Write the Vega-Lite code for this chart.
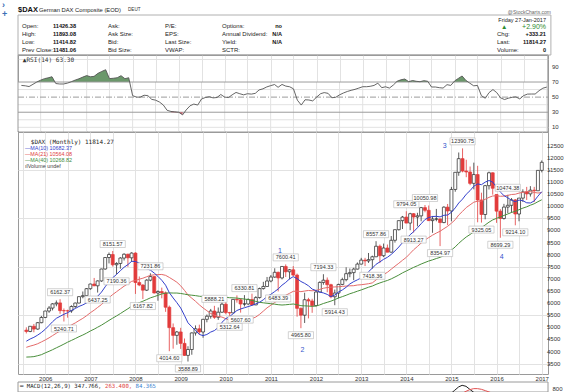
{
"$schema": "https://vega.github.io/schema/vega-lite/v6.json",
"padding": {"left": 2, "top": 0, "right": 0, "bottom": 0},
"background": "white",
"config": {"view": {"stroke": "#9a9a9a", "strokeWidth": 1}, "font": "Liberation Sans", "axis": {"labelFont": "Liberation Sans", "labelColor": "#333", "labelOverlap": false}, "text": {"font": "Liberation Sans"}},
"datasets": {
"info": [
{"col":1,"row":1,"label":"Open:","value":"11426.38"},
{"col":1,"row":2,"label":"High:","value":"11893.08"},
{"col":1,"row":3,"label":"Low:","value":"11414.82"},
{"col":1,"row":4,"label":"Prev Close:","value":"11481.06"},
{"col":2,"row":1,"label":"Ask:","value":""},
{"col":2,"row":2,"label":"Ask Size:","value":""},
{"col":2,"row":3,"label":"Bid:","value":""},
{"col":2,"row":4,"label":"Bid Size:","value":""},
{"col":3,"row":1,"label":"P/E:","value":""},
{"col":3,"row":2,"label":"EPS:","value":""},
{"col":3,"row":3,"label":"Last Size:","value":""},
{"col":3,"row":4,"label":"VWAP:","value":""},
{"col":4,"row":1,"label":"Options:","value":"no"},
{"col":4,"row":2,"label":"Annual Dividend:","value":"N/A"},
{"col":4,"row":3,"label":"Yield:","value":"N/A"},
{"col":4,"row":4,"label":"SCTR:","value":""},
{"col":5,"row":2,"label":"Chg:","value":"+333.21"},
{"col":5,"row":3,"label":"Last:","value":"11814.27"},
{"col":5,"row":4,"label":"Volume:","value":"0"}
],
"notes": [
{"kind":"box","text":"box"},
{"kind":"sym","text":"$DAX"},
{"kind":"name","text":"German DAX Composite (EOD)"},
{"kind":"exch","text":"DEUT"},
{"kind":"site","text":"@StockCharts.com"},
{"kind":"date","text":"Friday  27-Jan-2017"},
{"kind":"pct","text":"+2.90%"},
{"kind":"arrow","text":"▲"},
{"kind":"icon1","text":"›"},
{"kind":"icon2","text":"+"},
{"kind":"mask","text":"mask"},
{"kind":"frame","text":"frame"},
{"kind":"rsi","text":"▲RSI(14) 63.30"},
{"kind":"DAX","text":"$DAX (Monthly) 11814.27"},
{"kind":"MA10","text":"—MA(10) 10682.37"},
{"kind":"MA21","text":"—MA(21) 10564.08"},
{"kind":"MA40","text":"—MA(40) 10268.82"},
{"kind":"VOL","text":"ılVolume undef"},
{"kind":"macd","text":"━ MACD(12,26,9) 347.766,"},
{"kind":"sig","text":"263.400,"},
{"kind":"hist","text":"84.365"}
],
"levels": [
{"level":10,"kind":"grid"},{"level":20,"kind":"grid"},{"level":40,"kind":"grid"},{"level":60,"kind":"grid"},
{"level":30,"kind":"band"},{"level":70,"kind":"band"},{"level":50,"kind":"mid"}
],
"yticks": [
{"panel":"rsi","v":10},{"panel":"rsi","v":30},{"panel":"rsi","v":50},{"panel":"rsi","v":70},{"panel":"rsi","v":90},
{"panel":"main","v":3500},{"panel":"main","v":4000},{"panel":"main","v":4500},{"panel":"main","v":5000},{"panel":"main","v":5500},
{"panel":"main","v":6000},{"panel":"main","v":6500},{"panel":"main","v":7000},{"panel":"main","v":7500},{"panel":"main","v":8000},
{"panel":"main","v":8500},{"panel":"main","v":9000},{"panel":"main","v":9500},{"panel":"main","v":10000},{"panel":"main","v":10500},
{"panel":"main","v":11000},{"panel":"main","v":11500},{"panel":"main","v":12000},{"panel":"main","v":12500}
],
"px": [
{"date":"2005-08-01","open":4886,"high":5000,"low":4750,"close":4830,"ma10":4428,"ma21":4175,"ma40":3773,"rsi":65.5},
{"date":"2005-09-01","open":4830,"high":5050,"low":4800,"close":5044,"ma10":4520,"ma21":4226,"ma40":3779,"rsi":65},
{"date":"2005-10-01","open":5044,"high":5140,"low":4796,"close":4929,"ma10":4588,"ma21":4268,"ma40":3792,"rsi":64},
{"date":"2005-11-01","open":4929,"high":5220,"low":4900,"close":5193,"ma10":4681,"ma21":4324,"ma40":3830,"rsi":67},
{"date":"2005-12-01","open":5193,"high":5470,"low":5170,"close":5408,"ma10":4787,"ma21":4398,"ma40":3872,"rsi":70},
{"date":"2006-01-01","open":5408,"high":5680,"low":5380,"close":5674,"ma10":4920,"ma21":4478,"ma40":3945,"rsi":72.5},
{"date":"2006-02-01","open":5674,"high":5880,"low":5600,"close":5796,"ma10":5081,"ma21":4567,"ma40":4011,"rsi":74.5},
{"date":"2006-03-01","open":5796,"high":6000,"low":5700,"close":5970,"ma10":5232,"ma21":4659,"ma40":4077,"rsi":75.5},
{"date":"2006-04-01","open":5970,"high":6110,"low":5870,"close":6009,"ma10":5374,"ma21":4759,"ma40":4155,"rsi":77},
{"date":"2006-05-01","open":6009,"high":6162,"low":5560,"close":5692,"ma10":5455,"ma21":4850,"ma40":4228,"rsi":68},
{"date":"2006-06-01","open":5692,"high":5780,"low":5241,"close":5683,"ma10":5540,"ma21":4935,"ma40":4307,"rsi":67.4},
{"date":"2006-07-01","open":5683,"high":5730,"low":5400,"close":5682,"ma10":5604,"ma21":5017,"ma40":4388,"rsi":67.4},
{"date":"2006-08-01","open":5682,"high":5910,"low":5600,"close":5860,"ma10":5697,"ma21":5100,"ma40":4461,"rsi":68.5},
{"date":"2006-09-01","open":5860,"high":6020,"low":5800,"close":6004,"ma10":5778,"ma21":5183,"ma40":4537,"rsi":70.4},
{"date":"2006-10-01","open":6004,"high":6280,"low":5990,"close":6268,"ma10":5864,"ma21":5279,"ma40":4613,"rsi":72.5},
{"date":"2006-11-01","open":6268,"high":6480,"low":6200,"close":6309,"ma10":5927,"ma21":5372,"ma40":4683,"rsi":74.3},
{"date":"2006-12-01","open":6309,"high":6620,"low":6240,"close":6597,"ma10":6007,"ma21":5479,"ma40":4761,"rsi":76.5},
{"date":"2007-01-01","open":6597,"high":6800,"low":6550,"close":6789,"ma10":6089,"ma21":5603,"ma40":4850,"rsi":78.5},
{"date":"2007-02-01","open":6789,"high":7040,"low":6700,"close":6716,"ma10":6160,"ma21":5711,"ma40":4926,"rsi":77},
{"date":"2007-03-01","open":6716,"high":6940,"low":6437,"close":6917,"ma10":6283,"ma21":5822,"ma40":5005,"rsi":77.5},
{"date":"2007-04-01","open":6917,"high":7420,"low":6880,"close":7409,"ma10":6455,"ma21":5942,"ma40":5091,"rsi":81.5},
{"date":"2007-05-01","open":7409,"high":7890,"low":7380,"close":7883,"ma10":6675,"ma21":6087,"ma40":5187,"rsi":84},
{"date":"2007-06-01","open":7883,"high":8090,"low":7640,"close":8007,"ma10":6890,"ma21":6228,"ma40":5287,"rsi":86.3},
{"date":"2007-07-01","open":8007,"high":8152,"low":7510,"close":7584,"ma10":7048,"ma21":6355,"ma40":5380,"rsi":74.5},
{"date":"2007-08-01","open":7584,"high":7690,"low":7190,"close":7638,"ma10":7185,"ma21":6471,"ma40":5471,"rsi":75},
{"date":"2007-09-01","open":7638,"high":7900,"low":7420,"close":7862,"ma10":7340,"ma21":6588,"ma40":5570,"rsi":75.7},
{"date":"2007-10-01","open":7862,"high":8060,"low":7760,"close":8019,"ma10":7482,"ma21":6700,"ma40":5669,"rsi":78.4},
{"date":"2007-11-01","open":8019,"high":8040,"low":7500,"close":7871,"ma10":7591,"ma21":6799,"ma40":5768,"rsi":74.4},
{"date":"2007-12-01","open":7871,"high":8100,"low":7700,"close":8067,"ma10":7726,"ma21":6898,"ma40":5875,"rsi":75.7},
{"date":"2008-01-01","open":8067,"high":8100,"low":6380,"close":6851,"ma10":7719,"ma21":6938,"ma40":5949,"rsi":52},
{"date":"2008-02-01","open":6851,"high":7100,"low":6700,"close":6748,"ma10":7653,"ma21":6989,"ma40":6019,"rsi":50},
{"date":"2008-03-01","open":6748,"high":6780,"low":6168,"close":6535,"ma10":7518,"ma21":7029,"ma40":6079,"rsi":50},
{"date":"2008-04-01","open":6535,"high":6990,"low":6500,"close":6949,"ma10":7412,"ma21":7090,"ma40":6147,"rsi":52.5},
{"date":"2008-05-01","open":6949,"high":7232,"low":6900,"close":7096,"ma10":7364,"ma21":7148,"ma40":6218,"rsi":52},
{"date":"2008-06-01","open":7096,"high":7110,"low":6400,"close":6418,"ma10":7242,"ma21":7168,"ma40":6269,"rsi":47},
{"date":"2008-07-01","open":6418,"high":6530,"low":6100,"close":6479,"ma10":7103,"ma21":7178,"ma40":6323,"rsi":46},
{"date":"2008-08-01","open":6479,"high":6640,"low":6200,"close":6422,"ma10":6944,"ma21":7184,"ma40":6379,"rsi":43.5},
{"date":"2008-09-01","open":6422,"high":6480,"low":5640,"close":5831,"ma10":6740,"ma21":7147,"ma40":6413,"rsi":39.5},
{"date":"2008-10-01","open":5831,"high":5900,"low":4015,"close":4988,"ma10":6432,"ma21":7061,"ma40":6423,"rsi":32.5},
{"date":"2008-11-01","open":4988,"high":5160,"low":4120,"close":4669,"ma10":6214,"ma21":6964,"ma40":6417,"rsi":31},
{"date":"2008-12-01","open":4669,"high":4850,"low":4280,"close":4810,"ma10":6020,"ma21":6864,"ma40":6417,"rsi":30.5},
{"date":"2009-01-01","open":4810,"high":4980,"low":4110,"close":4338,"ma10":5800,"ma21":6717,"ma40":6399,"rsi":30},
{"date":"2009-02-01","open":4338,"high":4540,"low":3820,"close":3843,"ma10":5489,"ma21":6525,"ma40":6372,"rsi":26.5},
{"date":"2009-03-01","open":3843,"high":4220,"low":3589,"close":4085,"ma10":5188,"ma21":6338,"ma40":6344,"rsi":33},
{"date":"2009-04-01","open":4085,"high":4790,"low":3870,"close":4770,"ma10":5024,"ma21":6204,"ma40":6328,"rsi":38.5},
{"date":"2009-05-01","open":4770,"high":5080,"low":4660,"close":4941,"ma10":4870,"ma21":6076,"ma40":6310,"rsi":40.8},
{"date":"2009-06-01","open":4941,"high":5110,"low":4700,"close":4809,"ma10":4708,"ma21":5930,"ma40":6285,"rsi":39.5},
{"date":"2009-07-01","open":4809,"high":5350,"low":4570,"close":5332,"ma10":4659,"ma21":5802,"ma40":6270,"rsi":47.5},
{"date":"2009-08-01","open":5332,"high":5530,"low":5210,"close":5458,"ma10":4706,"ma21":5688,"ma40":6256,"rsi":49.5},
{"date":"2009-09-01","open":5458,"high":5760,"low":5360,"close":5675,"ma10":4806,"ma21":5574,"ma40":6255,"rsi":50.5},
{"date":"2009-10-01","open":5675,"high":5888,"low":5350,"close":5415,"ma10":4867,"ma21":5505,"ma40":6249,"rsi":49},
{"date":"2009-11-01","open":5415,"high":5820,"low":5310,"close":5625,"ma10":4995,"ma21":5452,"ma40":6247,"rsi":49.5},
{"date":"2009-12-01","open":5625,"high":6030,"low":5600,"close":5957,"ma10":5207,"ma21":5424,"ma40":6250,"rsi":53.5},
{"date":"2010-01-01","open":5957,"high":6095,"low":5540,"close":5608,"ma10":5359,"ma21":5360,"ma40":6240,"rsi":50},
{"date":"2010-02-01","open":5608,"high":5640,"low":5313,"close":5598,"ma10":5442,"ma21":5289,"ma40":6223,"rsi":49.5},
{"date":"2010-03-01","open":5598,"high":6170,"low":5590,"close":6154,"ma10":5563,"ma21":5277,"ma40":6219,"rsi":53},
{"date":"2010-04-01","open":6154,"high":6320,"low":6020,"close":6136,"ma10":5696,"ma21":5260,"ma40":6208,"rsi":56.2},
{"date":"2010-05-01","open":6136,"high":6200,"low":5608,"close":5964,"ma10":5759,"ma21":5238,"ma40":6187,"rsi":54.5},
{"date":"2010-06-01","open":5964,"high":6331,"low":5860,"close":5966,"ma10":5810,"ma21":5245,"ma40":6168,"rsi":53},
{"date":"2010-07-01","open":5966,"high":6200,"low":5930,"close":6148,"ma10":5857,"ma21":5300,"ma40":6149,"rsi":54.5},
{"date":"2010-08-01","open":6148,"high":6390,"low":5920,"close":5925,"ma10":5908,"ma21":5360,"ma40":6112,"rsi":54},
{"date":"2010-09-01","open":5925,"high":6290,"low":5920,"close":6229,"ma10":5969,"ma21":5427,"ma40":6071,"rsi":55},
{"date":"2010-10-01","open":6229,"high":6640,"low":6190,"close":6601,"ma10":6033,"ma21":5535,"ma40":6035,"rsi":59.5},
{"date":"2010-11-01","open":6601,"high":6880,"low":6560,"close":6688,"ma10":6141,"ma21":5671,"ma40":6013,"rsi":61},
{"date":"2010-12-01","open":6688,"high":7080,"low":6680,"close":6914,"ma10":6273,"ma21":5805,"ma40":5995,"rsi":63.5},
{"date":"2011-01-01","open":6914,"high":7160,"low":6860,"close":7077,"ma10":6365,"ma21":5915,"ma40":5975,"rsi":65.2},
{"date":"2011-02-01","open":7077,"high":7440,"low":7050,"close":7273,"ma10":6479,"ma21":6026,"ma40":5957,"rsi":66.7},
{"date":"2011-03-01","open":7273,"high":7300,"low":6483,"close":7041,"ma10":6586,"ma21":6133,"ma40":5936,"rsi":63},
{"date":"2011-04-01","open":7041,"high":7530,"low":6980,"close":7514,"ma10":6741,"ma21":6237,"ma40":5922,"rsi":66.8},
{"date":"2011-05-01","open":7514,"high":7600,"low":7080,"close":7294,"ma10":6856,"ma21":6324,"ma40":5933,"rsi":64.6},
{"date":"2011-06-01","open":7294,"high":7410,"low":6980,"close":7376,"ma10":7001,"ma21":6405,"ma40":5949,"rsi":63.7},
{"date":"2011-07-01","open":7376,"high":7530,"low":7120,"close":7159,"ma10":7094,"ma21":6488,"ma40":5964,"rsi":61},
{"date":"2011-08-01","open":7159,"high":7220,"low":5440,"close":5785,"ma10":7012,"ma21":6496,"ma40":5935,"rsi":46},
{"date":"2011-09-01","open":5785,"high":5820,"low":4966,"close":5502,"ma10":6894,"ma21":6474,"ma40":5895,"rsi":39.5},
{"date":"2011-10-01","open":5502,"high":6430,"low":5180,"close":6141,"ma10":6816,"ma21":6499,"ma40":5889,"rsi":46.5},
{"date":"2011-11-01","open":6141,"high":6220,"low":5370,"close":6089,"ma10":6717,"ma21":6523,"ma40":5879,"rsi":46.2},
{"date":"2011-12-01","open":6089,"high":6180,"low":5600,"close":5898,"ma10":6580,"ma21":6510,"ma40":5866,"rsi":45},
{"date":"2012-01-01","open":5898,"high":6500,"low":5870,"close":6459,"ma10":6522,"ma21":6526,"ma40":5881,"rsi":50},
{"date":"2012-02-01","open":6459,"high":6900,"low":6450,"close":6856,"ma10":6456,"ma21":6568,"ma40":5928,"rsi":54.5},
{"date":"2012-03-01","open":6856,"high":7194,"low":6760,"close":6947,"ma10":6421,"ma21":6615,"ma40":5985,"rsi":56},
{"date":"2012-04-01","open":6947,"high":7060,"low":6450,"close":6761,"ma10":6360,"ma21":6644,"ma40":6034,"rsi":55},
{"date":"2012-05-01","open":6761,"high":6800,"low":6200,"close":6264,"ma10":6270,"ma21":6660,"ma40":6082,"rsi":49.2},
{"date":"2012-06-01","open":6264,"high":6560,"low":5914,"close":6416,"ma10":6333,"ma21":6669,"ma40":6146,"rsi":49.8},
{"date":"2012-07-01","open":6416,"high":6800,"low":6200,"close":6772,"ma10":6460,"ma21":6677,"ma40":6213,"rsi":53},
{"date":"2012-08-01","open":6772,"high":7050,"low":6740,"close":6970,"ma10":6543,"ma21":6691,"ma40":6268,"rsi":55.5},
{"date":"2012-09-01","open":6970,"high":7480,"low":6900,"close":7216,"ma10":6656,"ma21":6705,"ma40":6325,"rsi":57.5},
{"date":"2012-10-01","open":7216,"high":7430,"low":7070,"close":7260,"ma10":6792,"ma21":6714,"ma40":6387,"rsi":59},
{"date":"2012-11-01","open":7260,"high":7460,"low":6950,"close":7405,"ma10":6887,"ma21":6720,"ma40":6438,"rsi":60.3},
{"date":"2012-12-01","open":7405,"high":7680,"low":7390,"close":7612,"ma10":6962,"ma21":6748,"ma40":6492,"rsi":62},
{"date":"2013-01-01","open":7612,"high":7870,"low":7600,"close":7776,"ma10":7045,"ma21":6760,"ma40":6545,"rsi":63.8},
{"date":"2013-02-01","open":7776,"high":7870,"low":7530,"close":7742,"ma10":7143,"ma21":6781,"ma40":6603,"rsi":63.8},
{"date":"2013-03-01","open":7742,"high":8070,"low":7660,"close":7795,"ma10":7296,"ma21":6801,"ma40":6657,"rsi":64.3},
{"date":"2013-04-01","open":7795,"high":7960,"low":7418,"close":7914,"ma10":7446,"ma21":6837,"ma40":6706,"rsi":65.5},
{"date":"2013-05-01","open":7914,"high":8558,"low":7900,"close":8349,"ma10":7604,"ma21":6959,"ma40":6775,"rsi":68.5},
{"date":"2013-06-01","open":8349,"high":8420,"low":7655,"close":7959,"ma10":7703,"ma21":7076,"ma40":6834,"rsi":62.5},
{"date":"2013-07-01","open":7959,"high":8460,"low":7900,"close":8276,"ma10":7809,"ma21":7178,"ma40":6887,"rsi":63.7},
{"date":"2013-08-01","open":8276,"high":8420,"low":8100,"close":8104,"ma10":7893,"ma21":7274,"ma40":6936,"rsi":62},
{"date":"2013-09-01","open":8104,"high":8770,"low":8090,"close":8594,"ma10":8012,"ma21":7402,"ma40":7002,"rsi":66},
{"date":"2013-10-01","open":8594,"high":9040,"low":8500,"close":9033,"ma10":8154,"ma21":7525,"ma40":7078,"rsi":71},
{"date":"2013-11-01","open":9033,"high":9410,"low":9000,"close":9406,"ma10":8317,"ma21":7646,"ma40":7160,"rsi":73},
{"date":"2013-12-01","open":9406,"high":9600,"low":9060,"close":9552,"ma10":8498,"ma21":7770,"ma40":7250,"rsi":74},
{"date":"2014-01-01","open":9552,"high":9794,"low":9300,"close":9306,"ma10":8649,"ma21":7891,"ma40":7327,"rsi":70.5},
{"date":"2014-02-01","open":9306,"high":9730,"low":9010,"close":9692,"ma10":8827,"ma21":8055,"ma40":7405,"rsi":72},
{"date":"2014-03-01","open":9692,"high":9720,"low":8913,"close":9556,"ma10":8948,"ma21":8204,"ma40":7476,"rsi":71},
{"date":"2014-04-01","open":9556,"high":9730,"low":9170,"close":9603,"ma10":9112,"ma21":8339,"ma40":7544,"rsi":70.4},
{"date":"2014-05-01","open":9603,"high":9970,"low":9380,"close":9943,"ma10":9279,"ma21":8481,"ma40":7615,"rsi":71.8},
{"date":"2014-06-01","open":9943,"high":10051,"low":9750,"close":9833,"ma10":9452,"ma21":8605,"ma40":7679,"rsi":71},
{"date":"2014-07-01","open":9833,"high":10030,"low":9390,"close":9407,"ma10":9533,"ma21":8707,"ma40":7738,"rsi":63.4},
{"date":"2014-08-01","open":9407,"high":9600,"low":8904,"close":9470,"ma10":9577,"ma21":8806,"ma40":7787,"rsi":63.4},
{"date":"2014-09-01","open":9470,"high":9890,"low":9380,"close":9474,"ma10":9584,"ma21":8894,"ma40":7842,"rsi":62.5},
{"date":"2014-10-01","open":9474,"high":9500,"low":8355,"close":9327,"ma10":9561,"ma21":8968,"ma40":7891,"rsi":62},
{"date":"2014-11-01","open":9327,"high":10000,"low":9300,"close":9963,"ma10":9627,"ma21":9074,"ma40":7961,"rsi":66.5},
{"date":"2014-12-01","open":9963,"high":10094,"low":9220,"close":9806,"ma10":9638,"ma21":9170,"ma40":8061,"rsi":65.5},
{"date":"2015-01-01","open":9806,"high":10800,"low":9380,"close":10694,"ma10":9752,"ma21":9302,"ma40":8191,"rsi":71.5},
{"date":"2015-02-01","open":10694,"high":11400,"low":10600,"close":11402,"ma10":9932,"ma21":9448,"ma40":8323,"rsi":75},
{"date":"2015-03-01","open":11402,"high":12220,"low":11260,"close":11966,"ma10":10134,"ma21":9638,"ma40":8469,"rsi":78},
{"date":"2015-04-01","open":11966,"high":12391,"low":11400,"close":11454,"ma10":10296,"ma21":9790,"ma40":8608,"rsi":72},
{"date":"2015-05-01","open":11454,"high":11920,"low":11200,"close":11414,"ma10":10497,"ma21":9947,"ma40":8732,"rsi":68.5},
{"date":"2015-06-01","open":11414,"high":11640,"low":10870,"close":10945,"ma10":10645,"ma21":10059,"ma40":8834,"rsi":65},
{"date":"2015-07-01","open":10945,"high":11800,"low":10700,"close":11309,"ma10":10828,"ma21":10168,"ma40":8944,"rsi":65.5},
{"date":"2015-08-01","open":11309,"high":11670,"low":9338,"close":10259,"ma10":10921,"ma21":10208,"ma40":9031,"rsi":52},
{"date":"2015-09-01","open":10259,"high":10560,"low":9325,"close":9660,"ma10":10891,"ma21":10214,"ma40":9116,"rsi":48.5},
{"date":"2015-10-01","open":9660,"high":10880,"low":9460,"close":10850,"ma10":10995,"ma21":10287,"ma40":9227,"rsi":56},
{"date":"2015-11-01","open":10850,"high":11430,"low":10690,"close":11382,"ma10":11064,"ma21":10367,"ma40":9342,"rsi":60},
{"date":"2015-12-01","open":11382,"high":11400,"low":10480,"close":10743,"ma10":10998,"ma21":10424,"ma40":9436,"rsi":56},
{"date":"2016-01-01","open":10486,"high":10486,"low":9314,"close":9798,"ma10":10781,"ma21":10433,"ma40":9501,"rsi":49},
{"date":"2016-02-01","open":9798,"high":9880,"low":8699,"close":9495,"ma10":10586,"ma21":10412,"ma40":9557,"rsi":46.8},
{"date":"2016-03-01","open":9495,"high":10100,"low":9450,"close":9966,"ma10":10441,"ma21":10418,"ma40":9621,"rsi":48.5},
{"date":"2016-04-01","open":9966,"high":10474,"low":9720,"close":10039,"ma10":10350,"ma21":10448,"ma40":9681,"rsi":49.8},
{"date":"2016-05-01","open":10039,"high":10340,"low":9730,"close":10263,"ma10":10246,"ma21":10486,"ma40":9744,"rsi":50.3},
{"date":"2016-06-01","open":10263,"high":10300,"low":9214,"close":9680,"ma10":10188,"ma21":10496,"ma40":9792,"rsi":47.6},
{"date":"2016-07-01","open":9680,"high":10340,"low":9380,"close":10337,"ma10":10255,"ma21":10544,"ma40":9856,"rsi":52},
{"date":"2016-08-01","open":10337,"high":10700,"low":10180,"close":10593,"ma10":10230,"ma21":10574,"ma40":9923,"rsi":54},
{"date":"2016-09-01","open":10593,"high":10800,"low":10260,"close":10511,"ma10":10143,"ma21":10608,"ma40":9977,"rsi":54.1},
{"date":"2016-10-01","open":10511,"high":10830,"low":10400,"close":10665,"ma10":10135,"ma21":10606,"ma40":10044,"rsi":54.1},
{"date":"2016-11-01","open":10665,"high":10800,"low":10170,"close":10640,"ma10":10219,"ma21":10570,"ma40":10103,"rsi":58.5},
{"date":"2016-12-01","open":10640,"high":11480,"low":10640,"close":11481,"ma10":10418,"ma21":10547,"ma40":10188,"rsi":61.8},
{"date":"2017-01-01","open":11481,"high":11893,"low":11400,"close":11814,"ma10":10602,"ma21":10564,"ma40":10268,"rsi":63.3}
],
"marks": [
{"date":"2006-05-01","price":6162.37,"text":"6162.37","pos":"up"},
{"date":"2006-06-01","price":5240.71,"text":"5240.71","pos":"down"},
{"date":"2007-03-01","price":6437.25,"text":"6437.25","pos":"down"},
{"date":"2007-07-01","price":8151.57,"text":"8151.57","pos":"up"},
{"date":"2007-08-01","price":7190.36,"text":"7190.36","pos":"down"},
{"date":"2008-03-01","price":6167.82,"text":"6167.82","pos":"down"},
{"date":"2008-05-01","price":7231.86,"text":"7231.86","pos":"up"},
{"date":"2008-10-01","price":4014.60,"text":"4014.60","pos":"down"},
{"date":"2009-03-01","price":3588.89,"text":"3588.89","pos":"down"},
{"date":"2009-10-01","price":5888.21,"text":"5888.21","pos":"up"},
{"date":"2010-02-01","price":5312.64,"text":"5312.64","pos":"down"},
{"date":"2010-06-01","price":6330.81,"text":"6330.81","pos":"up"},
{"date":"2010-05-01","price":5607.60,"text":"5607.60","pos":"down"},
{"date":"2011-03-01","price":6483.39,"text":"6483.39","pos":"down"},
{"date":"2011-05-01","price":7600.41,"text":"7600.41","pos":"up"},
{"date":"2011-09-01","price":4965.80,"text":"4965.80","pos":"down"},
{"date":"2012-03-01","price":7194.33,"text":"7194.33","pos":"up"},
{"date":"2012-06-01","price":5914.43,"text":"5914.43","pos":"down"},
{"date":"2013-04-01","price":7418.36,"text":"7418.36","pos":"down"},
{"date":"2013-05-01","price":8557.86,"text":"8557.86","pos":"up"},
{"date":"2014-01-01","price":9794.05,"text":"9794.05","pos":"up"},
{"date":"2014-03-01","price":8913.27,"text":"8913.27","pos":"down"},
{"date":"2014-06-01","price":10050.98,"text":"10050.98","pos":"up"},
{"date":"2014-10-01","price":8354.97,"text":"8354.97","pos":"down"},
{"date":"2015-04-01","price":12390.75,"text":"12390.75","pos":"up"},
{"date":"2015-09-01","price":9325.05,"text":"9325.05","pos":"down"},
{"date":"2016-02-01","price":8699.29,"text":"8699.29","pos":"down"},
{"date":"2016-04-01","price":10474.38,"text":"10474.38","pos":"up"},
{"date":"2016-06-01","price":9214.10,"text":"9214.10","pos":"down"}
],
"waves": [
{"date":"2011-03-15","price":8150,"text":"1"},
{"date":"2011-09-14","price":4065,"text":"2"},
{"date":"2014-11-07","price":12488,"text":"3"},
{"date":"2016-02-12","price":7925,"text":"4"}
],
"macd": [
{"date":"2014-10-01","macd":480,"signal":500},
{"date":"2014-11-01","macd":560,"signal":510},
{"date":"2014-12-01","macd":640,"signal":530},
{"date":"2015-01-01","macd":740,"signal":560},
{"date":"2015-02-01","macd":840,"signal":600},
{"date":"2015-03-01","macd":890,"signal":650},
{"date":"2015-04-01","macd":860,"signal":710},
{"date":"2015-05-01","macd":770,"signal":760},
{"date":"2015-06-01","macd":680,"signal":790},
{"date":"2015-07-01","macd":620,"signal":790},
{"date":"2015-08-01","macd":520,"signal":770},
{"date":"2015-09-01","macd":400,"signal":730},
{"date":"2015-10-01","macd":370,"signal":690},
{"date":"2015-11-01","macd":380,"signal":650},
{"date":"2015-12-01","macd":330,"signal":600}
]
},
"bounds": "flush",
"spacing": 0,
"vconcat": [
{
"width": 530, "height": 55,
"view": {"stroke": null},
"data": {"name": "info"},
"layer": [
{"data": {"name": "notes"}, "transform": [{"filter": "datum.kind === 'box'"}], "mark": {"type": "rect", "fill": "white", "stroke": "#b0b0b0", "strokeWidth": 1},
 "encoding": {"x": {"datum": 0, "type": "quantitative", "scale": {"domain": [0,1,2,3,4,5], "range": [0,4,90,147,204,479]}, "axis": null}, "x2": {"datum": 5.196},
  "y": {"datum": -0.375, "type": "quantitative", "scale": {"domain": [-2.25, 4.625], "reverse": true, "nice": false, "zero": false}, "axis": null}, "y2": {"datum": 4.625}}},
{"mark": {"type": "text", "align": "left", "baseline": "middle", "fontSize": 6, "color": "#222"},
 "encoding": {"x": {"field": "col", "type": "quantitative", "axis": null}, "y": {"field": "row", "type": "quantitative", "axis": null}, "text": {"field": "label"}}},
{"transform": [{"filter": "datum.col === 1"}], "mark": {"type": "text", "align": "right", "baseline": "middle", "fontSize": 5.6, "fontWeight": "bold", "dx": 54, "color": "#111"},
 "encoding": {"x": {"field": "col", "type": "quantitative", "axis": null}, "y": {"field": "row", "type": "quantitative", "axis": null}, "text": {"field": "value"}}},
{"transform": [{"filter": "datum.col === 4"}], "mark": {"type": "text", "align": "right", "baseline": "middle", "fontSize": 5.6, "fontWeight": "bold", "dx": 60, "color": "#111"},
 "encoding": {"x": {"field": "col", "type": "quantitative", "axis": null}, "y": {"field": "row", "type": "quantitative", "axis": null}, "text": {"field": "value"}}},
{"transform": [{"filter": "datum.col === 5"}], "mark": {"type": "text", "align": "right", "baseline": "middle", "fontSize": 5.6, "fontWeight": "bold", "dx": 49, "color": "#111"},
 "encoding": {"x": {"field": "col", "type": "quantitative", "axis": null}, "y": {"field": "row", "type": "quantitative", "axis": null}, "text": {"field": "value"}}},
{"data": {"name": "notes"}, "transform": [{"filter": "datum.kind === 'sym'"}], "mark": {"type": "text", "align": "left", "baseline": "middle", "fontSize": 7.5, "fontWeight": "bold", "color": "#111"},
 "encoding": {"x": {"datum": 0, "type": "quantitative", "axis": null}, "y": {"datum": -1, "type": "quantitative", "axis": null}, "text": {"field": "text"}}},
{"data": {"name": "notes"}, "transform": [{"filter": "datum.kind === 'name'"}], "mark": {"type": "text", "align": "left", "baseline": "middle", "fontSize": 5.8, "color": "#222", "dx": 21},
 "encoding": {"x": {"datum": 0, "type": "quantitative", "axis": null}, "y": {"datum": -1, "type": "quantitative", "axis": null}, "text": {"field": "text"}}},
{"data": {"name": "notes"}, "transform": [{"filter": "datum.kind === 'exch'"}], "mark": {"type": "text", "align": "left", "baseline": "middle", "fontSize": 4.6, "color": "#333", "dx": 110},
 "encoding": {"x": {"datum": 0, "type": "quantitative", "axis": null}, "y": {"datum": -1, "type": "quantitative", "axis": null}, "text": {"field": "text"}}},
{"data": {"name": "notes"}, "transform": [{"filter": "datum.kind === 'icon1'"}], "mark": {"type": "text", "align": "left", "baseline": "middle", "fontSize": 9, "fontWeight": "bold", "color": "#3b6fb6", "dx": -16, "dy": -5},
 "encoding": {"x": {"datum": 0, "type": "quantitative", "axis": null}, "y": {"datum": -1, "type": "quantitative", "axis": null}, "text": {"field": "text"}}},
{"data": {"name": "notes"}, "transform": [{"filter": "datum.kind === 'icon2'"}], "mark": {"type": "text", "align": "left", "baseline": "middle", "fontSize": 9, "fontWeight": "bold", "color": "#3b6fb6", "dx": -16, "dy": 4},
 "encoding": {"x": {"datum": 0, "type": "quantitative", "axis": null}, "y": {"datum": -1, "type": "quantitative", "axis": null}, "text": {"field": "text"}}},
{"data": {"name": "notes"}, "transform": [{"filter": "datum.kind === 'site'"}], "mark": {"type": "text", "align": "right", "baseline": "middle", "fontSize": 5, "color": "#666", "dx": 54, "dy": 2},
 "encoding": {"x": {"datum": 5, "type": "quantitative", "axis": null}, "y": {"datum": -1, "type": "quantitative", "axis": null}, "text": {"field": "text"}}},
{"data": {"name": "notes"}, "transform": [{"filter": "datum.kind === 'date'"}], "mark": {"type": "text", "align": "right", "baseline": "middle", "fontSize": 5.5, "color": "#222", "dx": 49, "dy": 1.5},
 "encoding": {"x": {"datum": 5, "type": "quantitative", "axis": null}, "y": {"datum": 0, "type": "quantitative", "axis": null}, "text": {"field": "text"}}},
{"data": {"name": "notes"}, "transform": [{"filter": "datum.kind === 'pct'"}], "mark": {"type": "text", "align": "right", "baseline": "middle", "fontSize": 7, "color": "#2e8b2e", "dx": 49, "dy": 0.5},
 "encoding": {"x": {"datum": 5, "type": "quantitative", "axis": null}, "y": {"datum": 1, "type": "quantitative", "axis": null}, "text": {"field": "text"}}},
{"data": {"name": "notes"}, "transform": [{"filter": "datum.kind === 'arrow'"}], "mark": {"type": "text", "align": "left", "baseline": "middle", "fontSize": 6.5, "color": "#2e8b2e", "dx": 4, "dy": 0.5},
 "encoding": {"x": {"datum": 5, "type": "quantitative", "axis": null}, "y": {"datum": 1, "type": "quantitative", "axis": null}, "text": {"field": "text"}}}
]
},
{
"width": 530, "height": 77,
"data": {"name": "px"},
"layer": [
{"mark": {"type": "area", "color": "#6b986b", "opacity": 1},
 "encoding": {
  "x": {"field": "date", "type": "temporal",
   "scale": {"type": "utc", "domain": [{"year": 2005, "month": 7, "date": 5, "utc": true}, {"year": 2017, "month": 1, "date": 11, "utc": true}], "nice": false},
   "axis": {"orient": "bottom", "title": null, "labels": false, "ticks": false, "domain": false, "grid": true, "gridColor": "#e2e2e2", "tickCount": {"interval": "month", "step": 6}}},
  "y": {"field": "rsi", "type": "quantitative", "scale": {"domain": [3.8, 105.8], "nice": false, "zero": false},
   "axis": {"orient": "right", "title": null, "values": [10,20,30,40,50,60,70,80,90,100], "labels": false, "ticks": false, "domain": false, "grid": true, "gridColor": "#e2e2e2"}},
  "y2": {"datum": 70}}},
{"data": {"name": "notes"}, "transform": [{"filter": "datum.kind === 'mask'"}], "mark": {"type": "rect", "color": "white", "opacity": 1},
 "encoding": {"x": {"datum": {"year": 2005, "month": 7, "date": 5, "utc": true}, "type": "temporal"}, "x2": {"datum": {"year": 2017, "month": 1, "date": 11, "utc": true}}, "y": {"datum": 5, "type": "quantitative"}, "y2": {"datum": 70}}},
{"transform": [{"filter": "utcmonth(toDate(datum.date)) % 6 === 0"}], "mark": {"type": "rule", "color": "#e2e2e2", "strokeWidth": 1},
 "encoding": {"x": {"field": "date", "type": "temporal"}, "y": {"datum": 5, "type": "quantitative"}, "y2": {"datum": 70}}},
{"data": {"name": "levels"}, "transform": [{"filter": "datum.kind === 'grid'"}], "mark": {"type": "rule", "color": "#e2e2e2", "strokeWidth": 1},
 "encoding": {"x": {"datum": {"year": 2005, "month": 7, "date": 5, "utc": true}, "type": "temporal"}, "x2": {"datum": {"year": 2017, "month": 1, "date": 11, "utc": true}}, "y": {"field": "level", "type": "quantitative"}}},
{"data": {"name": "levels"}, "transform": [{"filter": "datum.kind === 'band'"}], "mark": {"type": "rule", "color": "#9c9c9c", "strokeWidth": 1},
 "encoding": {"x": {"datum": {"year": 2005, "month": 7, "date": 5, "utc": true}, "type": "temporal"}, "x2": {"datum": {"year": 2017, "month": 1, "date": 11, "utc": true}}, "y": {"field": "level", "type": "quantitative"}}},
{"data": {"name": "levels"}, "transform": [{"filter": "datum.kind === 'mid'"}], "mark": {"type": "rule", "color": "#9c9c9c", "strokeWidth": 1, "strokeDash": [6, 2, 1, 2]},
 "encoding": {"x": {"datum": {"year": 2005, "month": 7, "date": 5, "utc": true}, "type": "temporal"}, "x2": {"datum": {"year": 2017, "month": 1, "date": 11, "utc": true}}, "y": {"field": "level", "type": "quantitative"}}},
{"transform": [{"filter": "datum.rsi <= 31"}], "mark": {"type": "area", "color": "#c8606e", "opacity": 1},
 "encoding": {"x": {"field": "date", "type": "temporal"}, "y": {"field": "rsi", "type": "quantitative"}, "y2": {"datum": 30}}},
{"mark": {"type": "line", "color": "#555555", "strokeWidth": 0.9},
 "encoding": {"x": {"field": "date", "type": "temporal"}, "y": {"field": "rsi", "type": "quantitative"}}},
{"data": {"name": "notes"}, "transform": [{"filter": "datum.kind === 'rsi'"}], "mark": {"type": "text", "align": "left", "baseline": "middle", "font": "DejaVu Sans Mono", "fontSize": 6.1, "color": "#333"},
 "encoding": {"x": {"datum": {"year": 2005, "month": 8, "date": 12, "utc": true}, "type": "temporal"}, "y": {"datum": 99, "type": "quantitative"}, "text": {"field": "text"}}},
{"data": {"name": "notes"}, "transform": [{"filter": "datum.kind === 'frame'"}], "mark": {"type": "rect", "fillOpacity": 0, "stroke": "#9a9a9a", "strokeWidth": 1},
 "encoding": {"x": {"datum": {"year": 2005, "month": 7, "date": 5, "utc": true}, "type": "temporal"}, "x2": {"datum": {"year": 2017, "month": 1, "date": 11, "utc": true}}, "y": {"datum": 3.8, "type": "quantitative"}, "y2": {"datum": 105.8}}},
{"data": {"name": "yticks"}, "transform": [{"filter": "datum.panel === 'rsi'"}], "mark": {"type": "text", "align": "left", "baseline": "middle", "fontSize": 6, "color": "#333", "dx": 4},
 "encoding": {"x": {"datum": {"year": 2017, "month": 1, "date": 11, "utc": true}, "type": "temporal"}, "y": {"field": "v", "type": "quantitative"}, "text": {"field": "v", "type": "quantitative", "format": "d"}}}
]
},
{
"width": 530, "height": 242,
"data": {"name": "px"},
"layer": [
{"mark": {"type": "rule", "strokeWidth": 0.8},
 "encoding": {
  "x": {"field": "date", "type": "temporal",
   "scale": {"type": "utc", "domain": [{"year": 2005, "month": 7, "date": 5, "utc": true}, {"year": 2017, "month": 1, "date": 11, "utc": true}], "nice": false},
   "axis": {"orient": "bottom", "title": null, "domain": false, "ticks": false, "labelFontSize": 6, "labelPadding": 1, "labelColor": "#333", "grid": true, "gridColor": "#e2e2e2", "tickCount": {"interval": "month", "step": 6}, "labelExpr": "utcmonth(datum.value) === 0 ? utcFormat(datum.value, '%Y') : ''", "labelOverlap": false, "labelFlush": false}},
  "y": {"field": "low", "type": "quantitative", "scale": {"domain": [3074, 13066], "nice": false, "zero": false},
   "axis": {"orient": "right", "title": null, "values": [3500,4000,4500,5000,5500,6000,6500,7000,7500,8000,8500,9000,9500,10000,10500,11000,11500,12000,12500,13000], "labels": false, "tickSize": 2, "tickColor": "#999", "domain": false, "grid": true, "gridColor": "#e2e2e2"}},
  "y2": {"field": "high"},
  "color": {"condition": {"test": "datum.close < datum.open", "value": "#e23b3b"}, "value": "#333333"}}},
{"mark": {"type": "bar", "width": 3, "strokeWidth": 0.7},
 "encoding": {"x": {"field": "date", "type": "temporal"}, "y": {"field": "open", "type": "quantitative"}, "y2": {"field": "close"},
  "fill": {"condition": {"test": "datum.close < datum.open", "value": "#e23b3b"}, "value": "#ffffff"},
  "stroke": {"condition": {"test": "datum.close < datum.open", "value": "#e23b3b"}, "value": "#222222"}}},
{"mark": {"type": "line", "color": "#e46a6a", "strokeWidth": 1}, "encoding": {"x": {"field": "date", "type": "temporal"}, "y": {"field": "ma21", "type": "quantitative"}}},
{"mark": {"type": "line", "color": "#4a8f3c", "strokeWidth": 1}, "encoding": {"x": {"field": "date", "type": "temporal"}, "y": {"field": "ma40", "type": "quantitative"}}},
{"mark": {"type": "line", "color": "#3340cc", "strokeWidth": 1}, "encoding": {"x": {"field": "date", "type": "temporal"}, "y": {"field": "ma10", "type": "quantitative"}}},
{"data": {"name": "marks"}, "transform": [{"filter": "datum.pos === 'up'"}],
 "mark": {"type": "point", "shape": "M-1.8,-1.5H1.8V-0.5H-1.8Z", "size": 196, "filled": true, "fill": "white", "stroke": "#b5b5b5", "strokeWidth": 0.6, "opacity": 1},
 "encoding": {"x": {"field": "date", "type": "temporal"}, "y": {"field": "price", "type": "quantitative"}}},
{"data": {"name": "marks"}, "transform": [{"filter": "datum.pos === 'down'"}],
 "mark": {"type": "point", "shape": "M-1.8,0.5H1.8V1.5H-1.8Z", "size": 196, "filled": true, "fill": "white", "stroke": "#b5b5b5", "strokeWidth": 0.6, "opacity": 1},
 "encoding": {"x": {"field": "date", "type": "temporal"}, "y": {"field": "price", "type": "quantitative"}}},
{"data": {"name": "marks"}, "transform": [{"filter": "datum.pos === 'up'"}],
 "mark": {"type": "text", "baseline": "middle", "align": "center", "fontSize": 5.5, "color": "#333", "dy": -7},
 "encoding": {"x": {"field": "date", "type": "temporal"}, "y": {"field": "price", "type": "quantitative"}, "text": {"field": "text"}}},
{"data": {"name": "marks"}, "transform": [{"filter": "datum.pos === 'down'"}],
 "mark": {"type": "text", "baseline": "middle", "align": "center", "fontSize": 5.5, "color": "#333", "dy": 7},
 "encoding": {"x": {"field": "date", "type": "temporal"}, "y": {"field": "price", "type": "quantitative"}, "text": {"field": "text"}}},
{"data": {"name": "waves"},
 "mark": {"type": "text", "baseline": "middle", "align": "center", "fontSize": 7, "color": "#3355cc"},
 "encoding": {"x": {"field": "date", "type": "temporal"}, "y": {"field": "price", "type": "quantitative"}, "text": {"field": "text"}}},
{"data": {"name": "notes"}, "transform": [{"filter": "datum.kind === 'DAX'"}], "mark": {"type": "text", "align": "left", "baseline": "middle", "font": "DejaVu Sans Mono", "fontSize": 6, "color": "#222"},
 "encoding": {"x": {"datum": {"year": 2005, "month": 9, "date": 6, "utc": true}, "type": "temporal"}, "y": {"datum": 12640, "type": "quantitative"}, "text": {"field": "text"}}},
{"data": {"name": "notes"}, "transform": [{"filter": "datum.kind === 'MA10'"}], "mark": {"type": "text", "align": "left", "baseline": "middle", "fontSize": 5.4, "color": "#3340cc"},
 "encoding": {"x": {"datum": {"year": 2005, "month": 7, "date": 21, "utc": true}, "type": "temporal"}, "y": {"datum": 12392, "type": "quantitative"}, "text": {"field": "text"}}},
{"data": {"name": "notes"}, "transform": [{"filter": "datum.kind === 'MA21'"}], "mark": {"type": "text", "align": "left", "baseline": "middle", "fontSize": 5.4, "color": "#e03c3c"},
 "encoding": {"x": {"datum": {"year": 2005, "month": 7, "date": 21, "utc": true}, "type": "temporal"}, "y": {"datum": 12145, "type": "quantitative"}, "text": {"field": "text"}}},
{"data": {"name": "notes"}, "transform": [{"filter": "datum.kind === 'MA40'"}], "mark": {"type": "text", "align": "left", "baseline": "middle", "fontSize": 5.4, "color": "#3c8a3c"},
 "encoding": {"x": {"datum": {"year": 2005, "month": 7, "date": 21, "utc": true}, "type": "temporal"}, "y": {"datum": 11897, "type": "quantitative"}, "text": {"field": "text"}}},
{"data": {"name": "notes"}, "transform": [{"filter": "datum.kind === 'VOL'"}], "mark": {"type": "text", "align": "left", "baseline": "middle", "fontSize": 5.4, "color": "#444"},
 "encoding": {"x": {"datum": {"year": 2005, "month": 7, "date": 21, "utc": true}, "type": "temporal"}, "y": {"datum": 11649, "type": "quantitative"}, "text": {"field": "text"}}},
{"data": {"name": "yticks"}, "transform": [{"filter": "datum.panel === 'main'"}], "mark": {"type": "text", "align": "left", "baseline": "middle", "fontSize": 6, "color": "#333", "dx": 4},
 "encoding": {"x": {"datum": {"year": 2017, "month": 1, "date": 11, "utc": true}, "type": "temporal"}, "y": {"field": "v", "type": "quantitative"}, "text": {"field": "v", "type": "quantitative", "format": "d"}}}
]
},
{
"width": 530, "height": 18,
"view": {"stroke": null},
"data": {"name": "macd"},
"layer": [
{"data": {"name": "notes"}, "transform": [{"filter": "datum.kind === 'frame'"}], "mark": {"type": "rect", "fillOpacity": 0, "stroke": "#9a9a9a", "strokeWidth": 1},
 "encoding": {
  "x": {"datum": {"year": 2005, "month": 7, "date": 5, "utc": true}, "type": "temporal",
   "scale": {"type": "utc", "domain": [{"year": 2005, "month": 7, "date": 5, "utc": true}, {"year": 2017, "month": 1, "date": 11, "utc": true}], "nice": false}, "axis": null},
  "x2": {"datum": {"year": 2017, "month": 1, "date": 11, "utc": true}},
  "y": {"datum": 689, "type": "quantitative", "scale": {"domain": [689, 1229], "nice": false, "zero": false}, "axis": {"orient": "right", "title": null, "values": [800], "labelFontSize": 6, "ticks": false, "labelPadding": 4, "domain": false, "grid": false}},
  "y2": {"datum": 989}}},
{"mark": {"type": "line", "color": "#222", "strokeWidth": 1, "clip": true},
 "encoding": {"x": {"field": "date", "type": "temporal", "axis": null}, "y": {"field": "macd", "type": "quantitative"}}},
{"mark": {"type": "line", "color": "#e05050", "strokeWidth": 1, "clip": true},
 "encoding": {"x": {"field": "date", "type": "temporal", "axis": null}, "y": {"field": "signal", "type": "quantitative"}}},
{"data": {"name": "notes"}, "transform": [{"filter": "datum.kind === 'macd'"}], "mark": {"type": "text", "align": "left", "baseline": "middle", "font": "DejaVu Sans Mono", "fontSize": 5.65, "color": "#222"},
 "encoding": {"x": {"datum": {"year": 2005, "month": 7, "date": 21, "utc": true}, "type": "temporal", "axis": null}, "y": {"datum": 878, "type": "quantitative"}, "text": {"field": "text"}}},
{"data": {"name": "notes"}, "transform": [{"filter": "datum.kind === 'sig'"}], "mark": {"type": "text", "align": "left", "baseline": "middle", "font": "DejaVu Sans Mono", "fontSize": 5.65, "color": "#e04040", "dx": 85},
 "encoding": {"x": {"datum": {"year": 2005, "month": 7, "date": 21, "utc": true}, "type": "temporal", "axis": null}, "y": {"datum": 878, "type": "quantitative"}, "text": {"field": "text"}}},
{"data": {"name": "notes"}, "transform": [{"filter": "datum.kind === 'hist'"}], "mark": {"type": "text", "align": "left", "baseline": "middle", "font": "DejaVu Sans Mono", "fontSize": 5.65, "color": "#3a7fd0", "dx": 115.6},
 "encoding": {"x": {"datum": {"year": 2005, "month": 7, "date": 21, "utc": true}, "type": "temporal", "axis": null}, "y": {"datum": 878, "type": "quantitative"}, "text": {"field": "text"}}}
]
}
]
}
